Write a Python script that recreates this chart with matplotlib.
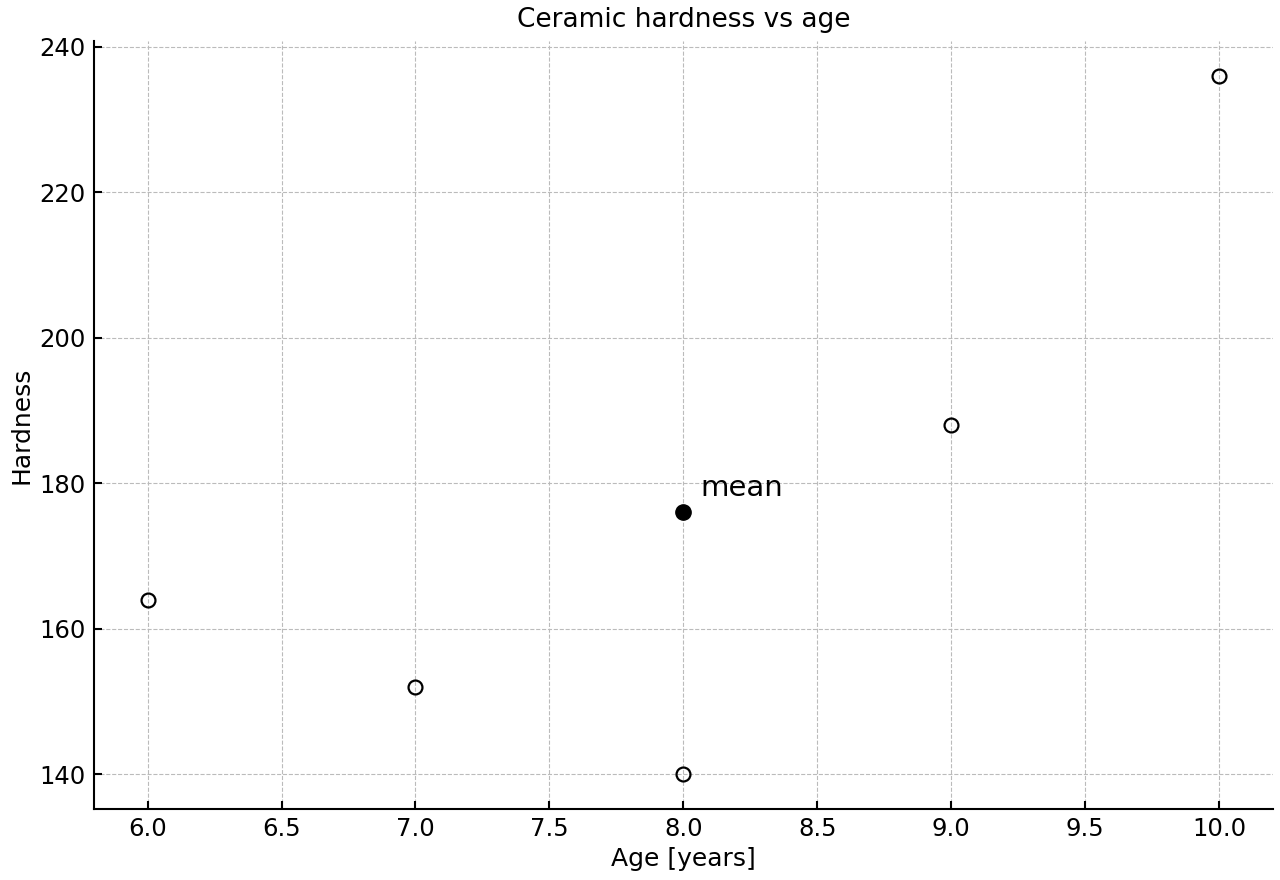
import numpy as np
import matplotlib.pyplot as plt

# Data
age = [6, 7, 8, 9, 10]
hardness = [164, 152, 140, 188, 236]
mean_age = np.mean(age)
mean_hardness = np.mean(hardness)

fig = plt.figure(figsize=(12.8, 8.8), dpi=100)
ax = fig.add_axes([0.0734, 0.0807, 0.921, 0.8727])

ax.plot(age, hardness, 'o', markerfacecolor='none', markeredgecolor='black',
        markersize=10, markeredgewidth=1.6)
ax.plot(mean_age, mean_hardness, 'o', color='black', markersize=11)
ax.annotate('mean', (mean_age, mean_hardness), xytext=(12, 12),
            textcoords='offset points', fontsize=21)

ax.set_title('Ceramic hardness vs age', fontsize=19, pad=10)
ax.set_xlabel('Age [years]', fontsize=18)
ax.set_ylabel('Hardness', fontsize=18)
ax.tick_params(direction='in', labelsize=17.5, width=1.5, length=6, pad=6)
for s in ['top', 'right']:
    ax.spines[s].set_visible(False)
for s in ['left', 'bottom']:
    ax.spines[s].set_linewidth(1.5)
ax.grid(True, linestyle='--', color='#bbbbbb', linewidth=0.8)
ax.set_axisbelow(True)

fig.savefig('out.png', dpi=100)
